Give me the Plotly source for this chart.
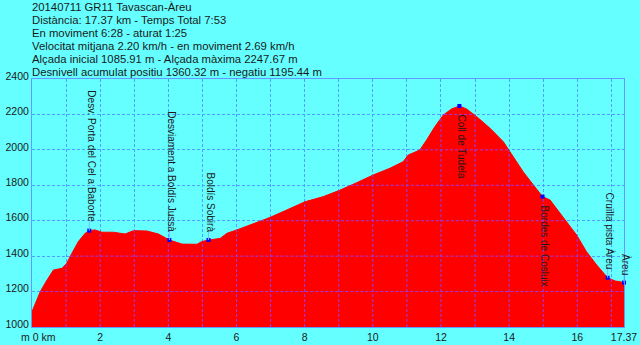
import plotly.graph_objects as go
import numpy as np

# Profile data (distance km, elevation m)
dist_km = [0.0, 0.24, 0.44, 0.63, 0.88, 1.02, 1.17, 1.36, 1.56, 1.68, 1.85, 2.05, 2.39, 2.73,
           2.98, 3.37, 3.71, 4.03, 4.40, 4.84, 4.98, 5.18, 5.52, 5.72, 6.01, 6.50, 6.99,
           7.47, 8.01, 8.55, 9.04, 9.53, 10.01, 10.50, 10.89, 11.04, 11.29, 11.38, 11.58,
           11.82, 12.07, 12.31, 12.54, 12.75, 13.05, 13.44, 13.83, 14.12, 14.41, 14.71,
           14.98, 15.20, 15.39, 15.69, 15.98, 16.27, 16.57, 16.89, 17.11, 17.37]
elev_m = [1085.91, 1199, 1265, 1322, 1331, 1360, 1416, 1482, 1529, 1544, 1548, 1535, 1535, 1525,
          1544, 1542, 1525, 1491, 1468, 1467, 1482, 1491, 1500, 1529, 1548, 1585, 1619,
          1660, 1707, 1736, 1773, 1815, 1858, 1896, 1933, 1971, 1990, 1999, 2056,
          2131, 2197, 2231, 2247.67, 2231, 2187, 2122, 2046, 1961, 1877, 1802,
          1736, 1717, 1670, 1594, 1519, 1425, 1350, 1278, 1260, 1250.79]

# Waypoints
wp_names = ["Desv. Porta del Cel a Baborte", "Desviament a Boldís Jussà", "Boldís Sobirà",
            "Coll de Tudela", "Bordes de Cosluix", "Cruïlla pista Àreu", "Àreu"]
wp_km = [1.68, 4.03, 5.18, 12.54, 14.98, 16.89, 17.37]
wp_elev = [1544, 1491, 1491, 2247.67, 1736, 1278, 1250.79]
wp_side = ["up", "up", "up", "down", "down", "up", "up"]

header_lines = [
    "20140711 GR11 Tavascan-Àreu",
    "Distància: 17.37 km - Temps Total 7:53",
    "En moviment 6:28 - aturat 1:25",
    "Velocitat mitjana 2.20 km/h - en moviment 2.69 km/h",
    "Alçada inicial 1085.91 m - Alçada màxima 2247.67 m",
    "Desnivell acumulat positiu 1360.32 m - negatiu 1195.44 m",
]

x_tickvals = [2, 4, 6, 8, 10, 12, 14, 16, 17.37]
x_ticktext = ["2", "4", "6", "8", "10", "12", "14", "16", "17.37"]
y_tickvals = [1000, 1200, 1400, 1600, 1800, 2000, 2200, 2400]
x_grid = list(range(1, 18))
y_grid = [1200, 1400, 1600, 1800, 2000, 2200]

BG = "#66ffff"
FRAME = "#6699ff"
GRID_CYAN = "rgb(80,160,255)"
GRID_RED = "rgb(150,60,235)"
FONT = "Liberation Sans, Arial, sans-serif"
TXT = "#1a1a1a"

W, H = 640, 345
ML, MR, MT, MB = 32, 16, 79, 18
PH = H - MT - MB

fig = go.Figure()

fig.add_trace(go.Scatter(x=dist_km, y=elev_m, mode="lines", fill="tozeroy",
                         fillcolor="#ff0000", line=dict(color="#ff0000", width=1),
                         hoverinfo="skip", showlegend=False))

# grid lines inside the red area (computed from the profile)
gx, gy = [], []
for k in x_grid:
    e = float(np.interp(k, dist_km, elev_m))
    gx += [k, k, None]
    gy += [1000, e, None]
for L in y_grid:
    start = None
    for i in range(len(dist_km)):
        above = elev_m[i] > L
        if i == 0:
            if above:
                start = dist_km[0]
            continue
        prev = elev_m[i - 1] > L
        if above != prev:
            x0, x1 = dist_km[i - 1], dist_km[i]
            e0, e1 = elev_m[i - 1], elev_m[i]
            xc = x0 + (L - e0) * (x1 - x0) / (e1 - e0)
            if above:
                start = xc
            else:
                gx += [start, xc, None]
                gy += [L, L, None]
    if elev_m[-1] > L:
        gx += [start, dist_km[-1], None]
        gy += [L, L, None]
fig.add_trace(go.Scatter(x=gx, y=gy, mode="lines",
                         line=dict(color=GRID_RED, width=1, dash="3px,2px"),
                         hoverinfo="skip", showlegend=False))

# waypoint connector lines
for km, e, side in zip(wp_km, wp_elev, wp_side):
    if side == "up":
        fig.add_shape(type="line", xref="x", yref="y", ysizemode="pixel", yanchor=e,
                      x0=km, x1=km, y0=0, y1=9,
                      line=dict(color="rgb(120,185,255)", width=1), layer="above")

fig.add_trace(go.Scatter(x=wp_km, y=wp_elev, mode="markers",
                         marker=dict(color="#0000ff", size=4, symbol="square"),
                         cliponaxis=False, hoverinfo="skip", showlegend=False))

for name, km, e, side in zip(wp_names, wp_km, wp_elev, wp_side):
    fig.add_annotation(x=km, y=e, xref="x", yref="y", text=name, textangle=90,
                       showarrow=False, xanchor="center",
                       yanchor="bottom" if side == "up" else "top",
                       yshift=6 if side == "up" else -7, xshift=2,
                       font=dict(family=FONT, size=10, color=TXT))

# header
line_centers = [7, 20, 33, 46, 59, 72]
for txt, yc in zip(header_lines, line_centers):
    fig.add_annotation(xref="paper", yref="paper", x=0, y=(H - MB - yc) / PH,
                       xanchor="left", yanchor="middle", xshift=-2, text=txt,
                       showarrow=False, font=dict(family=FONT, size=11.3, color=TXT))

fig.add_annotation(xref="paper", yref="paper", x=0, y=0, xanchor="left", yanchor="top",
                   xshift=-13, yshift=-2, text="m 0 km", showarrow=False,
                   font=dict(family=FONT, size=10.5, color=TXT))

fig.update_layout(
    width=W, height=H, margin=dict(l=ML, r=MR, t=MT, b=MB, autoexpand=False),
    paper_bgcolor=BG, plot_bgcolor=BG, showlegend=False,
    xaxis=dict(range=[0, 17.37], tickmode="array", tickvals=x_tickvals, ticktext=x_ticktext,
               showgrid=False, automargin=False,
               zeroline=False, showline=True, mirror=True, linecolor=FRAME, linewidth=1,
               ticks="", tickfont=dict(family=FONT, size=10.5, color=TXT),
               minor=dict(tickvals=x_grid, showgrid=True, gridcolor=GRID_CYAN,
                          griddash="3px,2px", gridwidth=1, ticks="")),
    yaxis=dict(range=[1000, 2400], tickmode="array", tickvals=y_tickvals, automargin=False,
               showgrid=False,
               zeroline=False, showline=True, mirror=True, linecolor=FRAME, linewidth=1,
               ticks="", ticklabelshift=-3, tickfont=dict(family=FONT, size=10.5, color=TXT),
               minor=dict(tickvals=y_grid, showgrid=True, gridcolor=GRID_CYAN,
                          griddash="3px,2px", gridwidth=1, ticks="")),
)

fig.write_html("out.html")
